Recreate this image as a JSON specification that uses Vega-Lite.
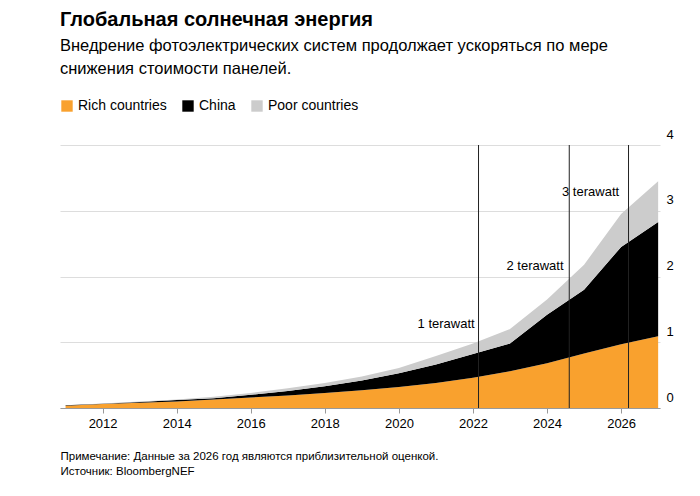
{
  "$schema": "https://vega.github.io/schema/vega-lite/v6.json",
  "width": 600,
  "height": 263,
  "padding": {"left": 60, "top": 9, "right": 30, "bottom": 4},
  "autosize": {"type": "pad"},
  "background": "white",
  "config": {
    "font": "Liberation Sans",
    "view": {"stroke": null}
  },
  "title": {
    "text": "Глобальная солнечная энергия",
    "subtitle": ["Внедрение фотоэлектрических систем продолжает ускоряться по мере", "снижения стоимости панелей."],
    "anchor": "start",
    "frame": "group",
    "fontSize": 20,
    "fontWeight": "bold",
    "color": "#000",
    "subtitleFontSize": 16.5,
    "subtitleColor": "#000",
    "subtitleLineHeight": 23,
    "subtitlePadding": 8,
    "offset": 22
  },
  "datasets": {
    "solar": [
      {"year": 2011, "group": "Rich countries", "order": 1, "value": 0.035},
      {"year": 2012, "group": "Rich countries", "order": 1, "value": 0.06},
      {"year": 2013, "group": "Rich countries", "order": 1, "value": 0.08},
      {"year": 2014, "group": "Rich countries", "order": 1, "value": 0.10},
      {"year": 2015, "group": "Rich countries", "order": 1, "value": 0.13},
      {"year": 2016, "group": "Rich countries", "order": 1, "value": 0.16},
      {"year": 2017, "group": "Rich countries", "order": 1, "value": 0.19},
      {"year": 2018, "group": "Rich countries", "order": 1, "value": 0.23},
      {"year": 2019, "group": "Rich countries", "order": 1, "value": 0.27},
      {"year": 2020, "group": "Rich countries", "order": 1, "value": 0.32},
      {"year": 2021, "group": "Rich countries", "order": 1, "value": 0.38},
      {"year": 2022, "group": "Rich countries", "order": 1, "value": 0.46},
      {"year": 2023, "group": "Rich countries", "order": 1, "value": 0.56},
      {"year": 2024, "group": "Rich countries", "order": 1, "value": 0.68},
      {"year": 2025, "group": "Rich countries", "order": 1, "value": 0.83},
      {"year": 2026, "group": "Rich countries", "order": 1, "value": 0.97},
      {"year": 2027, "group": "Rich countries", "order": 1, "value": 1.09},
      {"year": 2011, "group": "China", "order": 2, "value": 0.005},
      {"year": 2012, "group": "China", "order": 2, "value": 0.005},
      {"year": 2013, "group": "China", "order": 2, "value": 0.01},
      {"year": 2014, "group": "China", "order": 2, "value": 0.02},
      {"year": 2015, "group": "China", "order": 2, "value": 0.02},
      {"year": 2016, "group": "China", "order": 2, "value": 0.04},
      {"year": 2017, "group": "China", "order": 2, "value": 0.07},
      {"year": 2018, "group": "China", "order": 2, "value": 0.10},
      {"year": 2019, "group": "China", "order": 2, "value": 0.15},
      {"year": 2020, "group": "China", "order": 2, "value": 0.21},
      {"year": 2021, "group": "China", "order": 2, "value": 0.28},
      {"year": 2022, "group": "China", "order": 2, "value": 0.36},
      {"year": 2023, "group": "China", "order": 2, "value": 0.42},
      {"year": 2024, "group": "China", "order": 2, "value": 0.74},
      {"year": 2025, "group": "China", "order": 2, "value": 0.97},
      {"year": 2026, "group": "China", "order": 2, "value": 1.48},
      {"year": 2027, "group": "China", "order": 2, "value": 1.74},
      {"year": 2011, "group": "Poor countries", "order": 3, "value": 0.0},
      {"year": 2012, "group": "Poor countries", "order": 3, "value": 0.005},
      {"year": 2013, "group": "Poor countries", "order": 3, "value": 0.01},
      {"year": 2014, "group": "Poor countries", "order": 3, "value": 0.01},
      {"year": 2015, "group": "Poor countries", "order": 3, "value": 0.02},
      {"year": 2016, "group": "Poor countries", "order": 3, "value": 0.03},
      {"year": 2017, "group": "Poor countries", "order": 3, "value": 0.04},
      {"year": 2018, "group": "Poor countries", "order": 3, "value": 0.05},
      {"year": 2019, "group": "Poor countries", "order": 3, "value": 0.06},
      {"year": 2020, "group": "Poor countries", "order": 3, "value": 0.08},
      {"year": 2021, "group": "Poor countries", "order": 3, "value": 0.13},
      {"year": 2022, "group": "Poor countries", "order": 3, "value": 0.16},
      {"year": 2023, "group": "Poor countries", "order": 3, "value": 0.22},
      {"year": 2024, "group": "Poor countries", "order": 3, "value": 0.23},
      {"year": 2025, "group": "Poor countries", "order": 3, "value": 0.38},
      {"year": 2026, "group": "Poor countries", "order": 3, "value": 0.50},
      {"year": 2027, "group": "Poor countries", "order": 3, "value": 0.62}
    ],
    "marks": [
      {"year": 2022.15, "label": "1 terawatt", "lx": 2022.1, "ly": 1.27},
      {"year": 2024.6, "label": "2 terawatt", "lx": 2024.5, "ly": 2.16},
      {"year": 2026.2, "label": "3 terawatt", "lx": 2026.0, "ly": 3.28}
    ]
  },
  "layer": [
    {
      "data": {"name": "solar"},
      "mark": {"type": "area", "interpolate": "linear"},
      "encoding": {
        "x": {
          "field": "year",
          "type": "quantitative",
          "scale": {"domain": [2010.85, 2027.05], "nice": false, "zero": false},
          "axis": {
            "values": [2012, 2014, 2016, 2018, 2020, 2022, 2024, 2026],
            "format": "d",
            "grid": false,
            "domainColor": "#999",
            "tickColor": "#999",
            "tickSize": 5,
            "labelFontSize": 13,
            "labelColor": "#000",
            "labelPadding": 4,
            "title": ["Примечание: Данные за 2026 год являются приблизительной оценкой.", "Источник: BloombergNEF"],
            "titleAnchor": "start",
            "titleAlign": "left",
            "titleFontSize": 11.5,
            "titleFontWeight": "normal",
            "titleColor": "#000",
            "titleLineHeight": 15,
            "titlePadding": 20
          }
        },
        "y": {
          "field": "value",
          "type": "quantitative",
          "stack": "zero",
          "scale": {"domain": [0, 4], "nice": false},
          "axis": {
            "orient": "right",
            "values": [0, 1, 2, 3, 4],
            "format": "d",
            "title": null,
            "domain": false,
            "ticks": false,
            "gridColor": "#dddddd",
            "labelFontSize": 13,
            "labelColor": "#000",
            "labelOffset": -11,
            "labelPadding": 6
          }
        },
        "color": {
          "field": "group",
          "type": "nominal",
          "sort": ["Rich countries", "China", "Poor countries"],
          "scale": {"domain": ["Rich countries", "China", "Poor countries"], "range": ["#f9a12e", "#000000", "#cccccc"]},
          "legend": {
            "title": null,
            "orient": "none",
            "direction": "horizontal",
            "legendX": 0,
            "legendY": -46,
            "symbolType": "square",
            "symbolSize": 130,
            "symbolOpacity": 1,
            "labelFontSize": 14,
            "labelColor": "#000",
            "columnPadding": 14
          }
        },
        "order": {"field": "order", "type": "quantitative"}
      }
    },
    {
      "data": {"name": "marks"},
      "mark": {"type": "rule", "color": "#222", "strokeWidth": 1},
      "encoding": {
        "x": {"field": "year", "type": "quantitative"},
        "y": {"datum": 0},
        "y2": {"datum": 4}
      }
    },
    {
      "data": {"name": "marks"},
      "mark": {"type": "text", "fontSize": 13, "color": "#000", "align": "right", "dx": -2},
      "encoding": {
        "x": {"field": "lx", "type": "quantitative"},
        "y": {"field": "ly", "type": "quantitative"},
        "text": {"field": "label"}
      }
    }
  ]
}
